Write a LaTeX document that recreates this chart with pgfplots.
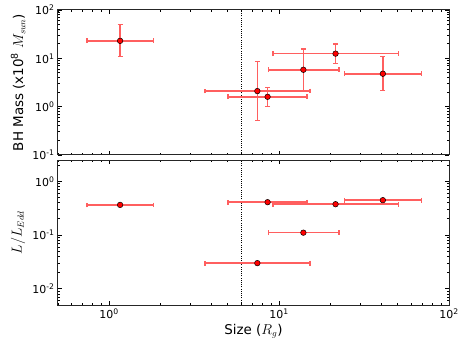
\documentclass[border=0pt]{standalone}
\usepackage{pgfplots}
\pgfplotsset{compat=1.18}
\usepackage{fontspec}
\setmainfont{DejaVu Sans}
\definecolor{ebar}{RGB}{255,95,95}
\pgfplotsset{every error bar/.append style={line width=1.6bp, ebar}}
\begin{document}
\begin{tikzpicture}
\path[use as bounding box] (0bp,0bp) rectangle (463bp,348bp);
\begin{axis}[
  scale only axis, width=391bp, height=145bp,
  xmode=log, ymode=log, xmin=0.5, xmax=100,
  at={(58bp,193bp)}, anchor=south west,
  tick align=inside,
  major tick length=4bp, minor tick length=2bp,
  every tick/.append style={black, line width=0.9bp},
  axis line style={black!85, line width=1bp},
  tick label style={font=\fontsize{11}{13}\selectfont},
  ylabel style={font=\fontsize{13.5}{16}\selectfont, at={(axis description cs:-0.102,0.5)}, anchor=center},
  xtick={1,10,100},
  minor xtick={0.5,0.6,0.7,0.8,0.9,2,3,4,5,6,7,8,9,20,30,40,50,60,70,80,90},
  ymin=0.1, ymax=100,
  ytick={0.1,1,10,100},
  yticklabels={10\textsuperscript{-1},10\textsuperscript{0},10\textsuperscript{1},10\textsuperscript{2}},
  minor ytick={0.2,0.3,0.4,0.5,0.6,0.7,0.8,0.9,2,3,4,5,6,7,8,9,20,30,40,50,60,70,80,90},
  xticklabels={},
  ylabel={BH Mass (x10\textsuperscript{8} $M_{sun}$)},
]
\addplot[black, line width=1bp, dash pattern=on 1bp off 1.2bp] coordinates {(6,0.1) (6,100)};
\addplot[only marks, mark=*, mark size=2.8bp,
    mark options={fill=red, draw=black, line width=0.5bp},
    error bars/x dir=both, error bars/x explicit,
    error bars/y dir=both, error bars/y explicit,
    error bars/error bar style={ebar, line width=1.6bp},
    error bars/error mark options={ebar, line width=1.3bp, mark size=2.4bp, rotate=90}]
 coordinates {
  (1.16,23)  += (0.66,26.6) -= (0.42,12)
  (7.45,2.1) += (7.75,6.4)  -= (3.79,1.58)
  (8.56,1.6) += (6.04,0.87) -= (3.56,0.59)
  (13.9,5.8) += (8.6,9.8)   -= (5.26,3.66)
  (21.5,12.5) += (28.9,7.3) -= (12.3,4.63)
  (40.8,4.8) += (28,6.0)    -= (16.5,2.66)
};
\end{axis}
\begin{axis}[
  scale only axis, width=391bp, height=145bp,
  xmode=log, ymode=log, xmin=0.5, xmax=100,
  at={(58bp,43bp)}, anchor=south west,
  tick align=inside,
  major tick length=4bp, minor tick length=2bp,
  every tick/.append style={black, line width=0.9bp},
  axis line style={black!85, line width=1bp},
  tick label style={font=\fontsize{11}{13}\selectfont},
  ylabel style={font=\fontsize{13.5}{16}\selectfont, at={(axis description cs:-0.102,0.5)}, anchor=center},
  xlabel style={font=\fontsize{13.5}{16}\selectfont, at={(axis description cs:0.5,-0.184)}, anchor=center},
  xtick={1,10,100},
  minor xtick={0.5,0.6,0.7,0.8,0.9,2,3,4,5,6,7,8,9,20,30,40,50,60,70,80,90},
  ymin=0.005, ymax=2.5,
  ytick={0.01,0.1,1},
  yticklabels={10\textsuperscript{-2},10\textsuperscript{-1},10\textsuperscript{0}},
  minor ytick={0.006,0.007,0.008,0.009,0.02,0.03,0.04,0.05,0.06,0.07,0.08,0.09,0.2,0.3,0.4,0.5,0.6,0.7,0.8,0.9,2},
  xticklabels={10\textsuperscript{0},10\textsuperscript{1},10\textsuperscript{2}},
  ylabel={$L/L_{Edd}$},
  xlabel={Size ($R_g$)},
]
\addplot[black, line width=1bp, dash pattern=on 1bp off 1.2bp] coordinates {(6,0.005) (6,2.5)};
\addplot[only marks, mark=*, mark size=2.8bp,
    mark options={fill=red, draw=black, line width=0.5bp},
    error bars/x dir=both, error bars/x explicit,
    error bars/error bar style={ebar, line width=1.6bp},
    error bars/error mark options={ebar, line width=1.3bp, mark size=2.4bp, rotate=90}]
 coordinates {
  (1.16,0.365)  += (0.66,0) -= (0.42,0)
  (7.45,0.0301) += (7.75,0) -= (3.79,0)
  (8.56,0.41)   += (6.04,0) -= (3.56,0)
  (13.9,0.111)  += (8.6,0)  -= (5.26,0)
  (21.5,0.376)  += (28.9,0) -= (12.3,0)
  (40.8,0.447)  += (28,0)   -= (16.5,0)
};
\end{axis}
\end{tikzpicture}
\end{document}
